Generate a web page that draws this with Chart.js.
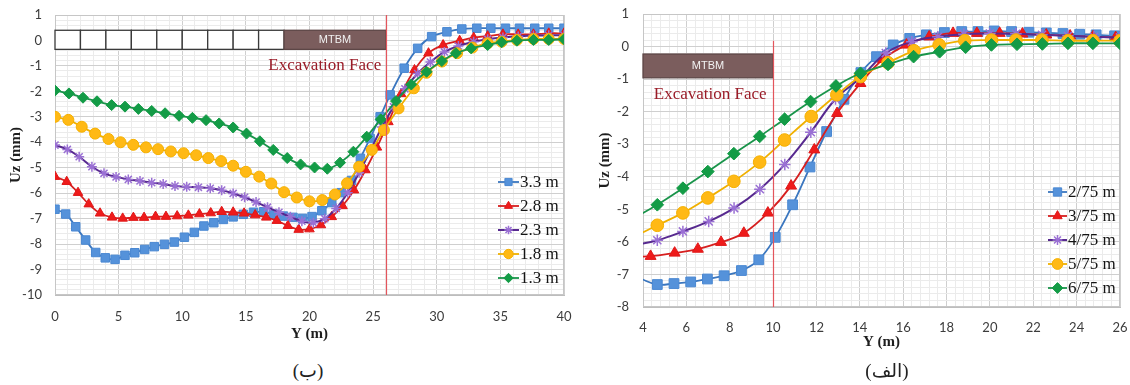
<!DOCTYPE html>
<html><head><meta charset="utf-8">
<script src="https://cdn.jsdelivr.net/npm/chart.js@4/dist/chart.umd.min.js"></script>
<style>
body{margin:0;background:#fff;width:1130px;height:385px;overflow:hidden;position:relative}
#wb{position:absolute;left:0;top:0;width:580px;height:350px}
#wa{position:absolute;left:580px;top:0;width:550px;height:360px}
.cap{position:absolute;top:359px;font-size:19px;line-height:24px;font-family:"Liberation Serif","DejaVu Sans",serif;color:#222;transform:translateX(-50%)}
</style></head><body>
<div id="wb"><canvas id="cb" width="580" height="350"></canvas></div>
<div id="wa"><canvas id="ca" width="550" height="360"></canvas></div>
<div class="cap" style="left:308px" dir="rtl">(ب)</div>
<div class="cap" style="left:887px" dir="rtl">(الف)</div>
<script>
// ---------- Panel (ب) : left ----------
const bLabels = ['3.3 m','2.8 m','2.3 m','1.8 m','1.3 m'];
const b33X = [0,0.84,1.63,2.41,3.2,3.95,4.72,5.5,6.27,7.05,7.8,8.6,9.38,10.17,10.95,11.7,12.48,13.23,14.0,14.8,15.6,16.4,17.2,17.95,18.7,19.45,20.2,20.97,21.75,22.5,23.3,24.0,24.76,25.55,26.34,27.44,28.5,29.6,30.8,31.97,33.15,34.25,35.4,36.5,37.7,38.8,40];
const b33Y = [-6.63,-6.82,-7.32,-7.84,-8.33,-8.54,-8.6,-8.44,-8.34,-8.21,-8.1,-8.01,-7.92,-7.73,-7.54,-7.29,-7.16,-7.03,-6.93,-6.83,-6.75,-6.73,-6.83,-6.9,-6.95,-6.99,-6.92,-6.69,-6.37,-5.98,-5.5,-4.63,-3.85,-3.0,-2.14,-1.09,-0.31,0.15,0.34,0.45,0.48,0.48,0.48,0.48,0.48,0.48,0.48];
const b28X = [0,0.92,1.81,2.65,3.54,4.48,5.32,6.16,7.0,7.9,8.72,9.6,10.48,11.35,12.24,13.1,14.0,14.86,15.73,16.6,17.43,18.3,19.15,20.0,20.9,21.75,22.6,23.5,24.4,25.3,26.2,27.2,28.25,29.35,30.5,31.8,32.9,34.0,35.2,36.4,37.6,38.8,40];
const b28Y = [-5.35,-5.55,-5.98,-6.43,-6.79,-6.95,-6.99,-6.96,-6.96,-6.92,-6.92,-6.9,-6.87,-6.82,-6.78,-6.73,-6.75,-6.79,-6.86,-6.95,-7.08,-7.28,-7.43,-7.41,-7.25,-6.93,-6.5,-5.88,-5.09,-4.2,-3.2,-2.1,-1.16,-0.5,-0.18,-0.01,0.11,0.17,0.24,0.24,0.24,0.28,0.28];
const b23X = [0,0.97,1.9,2.9,3.85,4.8,5.76,6.68,7.6,8.5,9.43,10.35,11.27,12.2,13.1,14.0,14.9,15.8,16.7,17.6,18.5,19.4,20.3,21.2,22.1,23.0,23.9,24.8,25.7,26.6,27.5,28.5,29.5,30.6,31.7,32.9,34.0,35.2,36.4,37.6,38.8,40];
const b23Y = [-4.11,-4.28,-4.57,-4.96,-5.22,-5.36,-5.46,-5.52,-5.59,-5.64,-5.72,-5.75,-5.77,-5.81,-5.88,-6.01,-6.16,-6.35,-6.55,-6.75,-6.93,-7.1,-7.16,-7.0,-6.6,-5.98,-5.2,-4.3,-3.4,-2.6,-1.9,-1.3,-0.85,-0.45,-0.22,-0.05,0.05,0.12,0.16,0.19,0.2,0.2];
const b18X = [0,1.05,2.1,3.15,4.2,5.15,6.15,7.15,8.1,9.1,10.1,11.1,12.05,13.05,14.0,15.0,16.05,17.0,18.0,19.0,20.0,21.0,22.0,22.95,23.9,24.9,25.85,27.0,28.2,29.2,30.4,31.6,32.8,34.0,35.1,36.3,37.6,38.8,40];
const b18Y = [-3.0,-3.12,-3.39,-3.66,-3.87,-4.0,-4.1,-4.2,-4.27,-4.36,-4.43,-4.51,-4.62,-4.74,-4.92,-5.16,-5.35,-5.62,-5.96,-6.17,-6.32,-6.27,-6.05,-5.61,-4.96,-4.3,-3.52,-2.67,-1.88,-1.27,-0.83,-0.5,-0.28,-0.11,-0.05,0.02,0.06,0.06,0.06];
const b13X = [0,1.1,2.2,3.3,4.45,5.5,6.55,7.6,8.65,9.75,10.8,11.87,12.9,14.0,15.05,16.1,17.15,18.25,19.3,20.4,21.4,22.4,23.45,24.5,25.6,26.8,28.0,29.2,30.4,31.5,32.7,34.0,35.1,36.3,37.6,38.8,40];
const b13Y = [-1.97,-2.08,-2.25,-2.39,-2.54,-2.6,-2.69,-2.77,-2.86,-2.96,-3.04,-3.13,-3.26,-3.42,-3.66,-3.96,-4.3,-4.62,-4.87,-4.99,-5.04,-4.8,-4.37,-3.78,-3.1,-2.38,-1.73,-1.23,-0.81,-0.5,-0.31,-0.18,-0.07,-0.01,0.02,0.02,0.05];
const bXTicks = [0,5,10,15,20,25,30,35,40];
const bYTicks = [1,0,-1,-2,-3,-4,-5,-6,-7,-8,-9,-10];

// ---------- Panel (الف) : right ----------
const aLabels = ['2/75 m','3/75 m','4/75 m','5/75 m','6/75 m'];
const a275X = [3.85,4.66,5.43,6.2,6.97,7.74,8.54,9.34,10.1,10.9,11.7,12.47,13.27,14.05,14.77,15.54,16.3,17.07,17.9,18.7,19.45,20.2,21.0,21.8,22.6,23.37,24.14,24.9,25.75];
const a275Y = [-7.12,-7.31,-7.28,-7.23,-7.14,-7.04,-6.88,-6.55,-5.86,-4.86,-3.7,-2.61,-1.62,-0.8,-0.31,0.05,0.25,0.36,0.43,0.46,0.46,0.48,0.46,0.44,0.42,0.4,0.38,0.36,0.33];
const a375X = [3.3,4.35,5.46,6.53,7.6,8.65,9.76,10.83,11.9,12.95,14.03,15.07,16.15,17.2,18.3,19.4,20.45,21.5,22.6,23.7,24.75,25.8];
const a375Y = [-6.46,-6.44,-6.34,-6.22,-6.01,-5.73,-5.11,-4.28,-3.17,-2.05,-1.13,-0.39,0.05,0.3,0.41,0.41,0.41,0.39,0.36,0.33,0.3,0.28];
const a475X = [3.5,4.66,5.84,7.03,8.2,9.39,10.54,11.74,12.88,14.05,15.2,16.4,17.6,18.8,20.0,21.2,22.4,23.6,24.8,26.0];
const a475Y = [-6.12,-5.95,-5.68,-5.37,-4.96,-4.38,-3.62,-2.63,-1.61,-0.95,-0.2,0.15,0.3,0.38,0.4,0.39,0.36,0.33,0.3,0.28];
const a575X = [3.5,4.66,5.84,6.99,8.19,9.38,10.53,11.76,12.94,14.03,15.3,16.5,17.66,18.84,20.07,21.2,22.4,23.6,24.75,26.0];
const a575Y = [-5.87,-5.49,-5.11,-4.65,-4.14,-3.55,-2.87,-2.15,-1.48,-0.92,-0.5,-0.13,0.05,0.18,0.2,0.2,0.2,0.18,0.18,0.18];
const a675X = [3.5,4.66,5.84,6.99,8.19,9.38,10.53,11.73,12.9,14.03,15.3,16.48,17.68,18.88,20.07,21.25,22.42,23.6,24.75,26.0];
const a675Y = [-5.3,-4.86,-4.35,-3.84,-3.29,-2.76,-2.23,-1.69,-1.21,-0.82,-0.55,-0.31,-0.16,-0.02,0.05,0.07,0.08,0.1,0.1,0.1];
const aXTicks = [4,6,8,10,12,14,16,18,20,22,24,26];
const aYTicks = [1,0,-1,-2,-3,-4,-5,-6,-7,-8];

// ---------- helpers ----------
const MAJ = '#cfcfcf', MIN = '#ebebeb';
const isMult = (v, m) => Math.abs(v / m - Math.round(v / m)) < 1e-6;
const TICKFONT = {family: 'Lato, "Open Sans", sans-serif', size: 13};
const TITLEFONT = {family: '"Liberation Serif", serif', size: 15, weight: 'bold'};

const STY = [
  {borderColor:'#3a76bf', borderWidth:1.8, pointStyle:'rect', r:6, bg:'#5592da', pb:'#4a88d2', order:5},
  {borderColor:'#d61f1f', borderWidth:1.8, pointStyle:'triangle', r:5.5, bg:'#ee1b1b', pb:'#e01818', order:4},
  {borderColor:'#57298f', borderWidth:2, pointStyle:'star', r:5, bg:'#9a70d4', pb:'#9a70d4', order:3},
  {borderColor:'#f0b000', borderWidth:1.8, pointStyle:'circle', r:5.5, bg:'#ffb915', pb:'#f5b000', order:2},
  {borderColor:'#19944a', borderWidth:1.8, pointStyle:'rectRot', r:5.5, bg:'#139b46', pb:'#139b46', order:1}
];
function mkSets(labels, xsArr, ysArr, xmin, scale) {
  return labels.map((lab, k) => {
    const s = STY[k], r = s.r * scale;
    return {
      label: lab,
      data: xsArr[k].map((v, i) => ({x: v, y: ysArr[k][i]})),
      showLine: true, tension: 0.4, fill: false,
      borderColor: s.borderColor, borderWidth: s.borderWidth,
      pointStyle: s.pointStyle,
      pointRadius: c => (c.raw && c.raw.x < xmin) ? 0 : r,
      legendR: r,
      pointBackgroundColor: s.bg, pointBorderColor: s.pb,
      pointBorderWidth: s.pointStyle === 'star' ? 1.5 : 1,
      order: s.order
    };
  });
}

const deco = {
  id: 'deco',
  beforeDatasetsDraw(chart, args, o) {
    const {ctx, chartArea: a} = chart;
    const xs = chart.scales.x, ys = chart.scales.y;
    ctx.save();
    ctx.strokeStyle = '#c6c6c6'; ctx.lineWidth = 1;
    ctx.strokeRect(a.left + 0.5, a.top + 0.5, a.right - a.left - 1, a.bottom - a.top - 1);
    o.boxes.forEach(b => {
      const x0 = xs.getPixelForValue(b.x0), x1 = xs.getPixelForValue(b.x1);
      const y0 = ys.getPixelForValue(b.y0), y1 = ys.getPixelForValue(b.y1);
      ctx.fillStyle = b.fill; ctx.fillRect(x0, y0, x1 - x0, y1 - y0);
      ctx.strokeStyle = b.stroke; ctx.lineWidth = 1.3; ctx.strokeRect(x0, y0, x1 - x0, y1 - y0);
      if (b.text) {
        ctx.fillStyle = '#f2f2f2'; ctx.font = '11px "Liberation Sans", Arial, sans-serif';
        ctx.textAlign = 'center'; ctx.textBaseline = 'middle';
        ctx.fillText(b.text, (x0 + x1) / 2, (y0 + y1) / 2 + 0.5);
      }
    });
    ctx.fillStyle = '#9a1c28'; ctx.font = o.faceText.size + 'px "Liberation Serif", serif';
    ctx.textAlign = 'center'; ctx.textBaseline = 'middle';
    ctx.fillText(o.faceText.text, xs.getPixelForValue(o.faceText.x), ys.getPixelForValue(o.faceText.y));
    ctx.restore();
  },
  afterDatasetsDraw(chart, args, o) {
    const {ctx} = chart;
    const xs = chart.scales.x, ys = chart.scales.y;
    ctx.save();
    // excavation face line
    const lx = Math.round(xs.getPixelForValue(o.face.x)) + 0.5;
    ctx.strokeStyle = '#e3555c'; ctx.lineWidth = 1.2;
    ctx.beginPath(); ctx.moveTo(lx, ys.getPixelForValue(o.face.y0)); ctx.lineTo(lx, ys.getPixelForValue(o.face.y1)); ctx.stroke();
    // legend
    const L = o.legend;
    chart.data.datasets.forEach((d, i) => {
      const yy = L.y0 + i * L.dy;
      ctx.strokeStyle = d.borderColor; ctx.lineWidth = d.borderWidth;
      ctx.beginPath(); ctx.moveTo(L.x0, yy); ctx.lineTo(L.x1, yy); ctx.stroke();
      ctx.fillStyle = d.pointBackgroundColor; ctx.strokeStyle = d.pointBorderColor;
      ctx.lineWidth = d.pointBorderWidth;
      if (Chart.helpers && Chart.helpers.drawPoint) {
        Chart.helpers.drawPoint(ctx, {pointStyle: d.pointStyle, rotation: 0, radius: d.legendR * 0.85, borderWidth: d.pointBorderWidth}, (L.x0 + L.x1) / 2, yy);
      }
      ctx.fillStyle = '#141414'; ctx.font = '17px "Liberation Serif", serif';
      ctx.textAlign = 'left'; ctx.textBaseline = 'middle';
      ctx.fillText(d.label, L.x1 + 1, yy + 1);
    });
    ctx.restore();
  }
};

function noPad(s) { s.paddingTop = 0; s.paddingBottom = 0; s.paddingLeft = 0; s.paddingRight = 0; }
function axisX(min, max, step, major, majorList, pad, height) {
  return {
    type: 'linear', min, max,
    ticks: {stepSize: step, autoSkip: false, maxRotation: 0, padding: pad, color: '#3c3c3c', font: TICKFONT,
      callback: v => majorList.some(t => Math.abs(t - v) < 1e-6) ? String(Math.round(v)) : ''},
    grid: {drawTicks: false, lineWidth: 1, color: c => (c.tick && isMult(c.tick.value, major)) ? MAJ : MIN},
    border: {color: '#bdbdbd'},
    title: {display: true, text: 'Y (m)', font: TITLEFONT, color: '#1e1e1e', padding: {top: 0, bottom: 0}},
    afterFit: s => { s.height = height; noPad(s); }
  };
}
function axisY(min, max, majorList, pad, width, tpad) {
  return {
    type: 'linear', min, max,
    ticks: {stepSize: 0.2, autoSkip: false, padding: pad, color: '#3c3c3c', font: TICKFONT,
      callback: v => majorList.some(t => Math.abs(t - v) < 1e-6) ? String(Math.round(v)) : ''},
    grid: {drawTicks: false, lineWidth: 1, color: c => (c.tick && isMult(c.tick.value, 1)) ? MAJ : MIN},
    border: {color: '#bdbdbd'},
    title: {display: true, text: 'Uz (mm)', font: TITLEFONT, color: '#1e1e1e', padding: {top: tpad, bottom: 0}},
    afterFit: s => { s.width = width; noPad(s); }
  };
}

// left chart boxes: 9 open segments + MTBM
const bBoxes = [];
for (let i = 0; i < 9; i++) bBoxes.push({x0: i * 2, x1: i * 2 + 2, y0: 0.4, y1: -0.35, fill: '#ffffff', stroke: '#3a3a3a'});
bBoxes.push({x0: 18, x1: 26, y0: 0.4, y1: -0.35, fill: '#7b5d5d', stroke: '#5d4646', text: 'MTBM'});

new Chart(document.getElementById('cb'), {
  type: 'scatter',
  data: {datasets: mkSets(bLabels, [b33X, b28X, b23X, b18X, b13X], [b33Y, b28Y, b23Y, b18Y, b13Y], 0, 1)},
  options: {
    responsive: false, animation: false, events: [],
    layout: {padding: {left: 0, top: 15, right: 16, bottom: 7}},
    scales: {x: axisX(0, 40, 1, 5, bXTicks, 14, 48), y: axisY(-10, 1, bYTicks, 13, 55, 7)},
    plugins: {
      legend: {display: false}, tooltip: {enabled: false},
      deco: {
        boxes: bBoxes,
        face: {x: 26, y0: 1, y1: -10},
        faceText: {text: 'Excavation Face', x: 21.2, y: -1.0, size: 17},
        legend: {x0: 498, x1: 519, y0: 182, dy: 24}
      }
    }
  },
  plugins: [deco]
});

new Chart(document.getElementById('ca'), {
  type: 'scatter',
  data: {datasets: mkSets(aLabels, [a275X, a375X, a475X, a575X, a675X], [a275Y, a375Y, a475Y, a575Y, a675Y], 4, 1.15)},
  options: {
    responsive: false, animation: false, events: [],
    layout: {padding: {left: 0, top: 14, right: 10, bottom: 9}},
    scales: {x: axisX(4, 26, 0.4, 2, aXTicks, 13, 44), y: axisY(-8, 1, aYTicks, 14, 63, 16)},
    plugins: {
      legend: {display: false}, tooltip: {enabled: false},
      deco: {
        boxes: [{x0: 4, x1: 10, y0: -0.23, y1: -0.96, fill: '#7b5d5d', stroke: '#5d4646', text: 'MTBM'}],
        face: {x: 10, y0: 0.18, y1: -8},
        faceText: {text: 'Excavation Face', x: 7.1, y: -1.48, size: 17},
        legend: {x0: 468, x1: 487, y0: 192, dy: 24}
      }
    }
  },
  plugins: [deco]
});
</script>
</body></html>
